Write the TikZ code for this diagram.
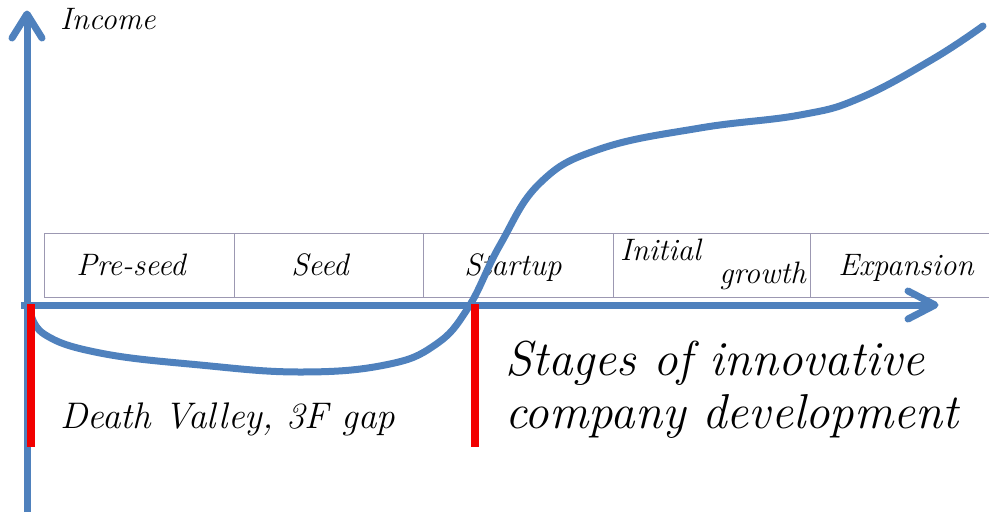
\documentclass[tikz,border=0pt]{standalone}
\usepackage{fontspec}
\definecolor{axisblue}{HTML}{4F81BD}
\definecolor{gridgray}{HTML}{9C98B2}
\definecolor{barred}{HTML}{F20000}
\begin{document}
\begin{tikzpicture}[x=1pt,y=-1pt,
  axisline/.style={draw=axisblue,line width=7pt},
  arrowhd/.style={draw=axisblue,line width=7pt,line cap=round,line join=round},
  gridline/.style={draw=gridgray,line width=0.9pt},
  redbar/.style={draw=barred,line width=8pt},
  stagetxt/.style={inner sep=0pt,font=\fontsize{31}{34}\selectfont\itshape},
  bigtxt/.style={inner sep=0pt,anchor=base west,font=\fontsize{49}{54}\selectfont\itshape}]
\useasboundingbox (0,0) rectangle (989,512);
% table
\draw[gridline] (44,233) -- (989,233);
\draw[gridline] (44,297) -- (989,297);
\foreach \xx in {44,234,423,613,810} \draw[gridline] (\xx,233) -- (\xx,297);
\node[stagetxt,anchor=base] (preseed) at (131,275) {Pre-seed};
\node[stagetxt,anchor=base] (seed) at (320,275) {Seed};
\node[stagetxt,anchor=base] (startup) at (513,275) {Startup};
\node[stagetxt,anchor=base west] (initial) at (620,260) {Initial};
\node[stagetxt,anchor=base east] (growth) at (806,283) {growth};
\node[stagetxt,anchor=base] (expansion) at (906,275) {Expansion};
% axes
\coordinate (origin) at (27,305);
\coordinate (ybot) at (27,512);
\coordinate (ytip) at (27,14);
\coordinate (xtip) at (935,305);
\draw[axisline] (ybot) -- (ytip);
\draw[arrowhd] (12,38) -- (ytip) -- (42,38);
\draw[axisline] (21,305) -- (xtip);
\draw[arrowhd] (908,291) -- (xtip) -- (908,319);
% curve
\draw[draw=axisblue,line width=7pt,line cap=round] plot[smooth,tension=0.7] coordinates {
 (30,308) (44,334) (100,353) (200,365) (300,372) (385,365) (435,345) (468,308)
 (500,245) (540,183) (600,149) (700,128) (800,115)
 (860,98) (933,59) (983,26)};
% red bars
\draw[redbar] (31,304) -- (31,447);
\draw[redbar] (475,304) -- (475,447);
% labels
\node[inner sep=0pt,anchor=base west,font=\fontsize{31}{34}\selectfont\itshape] (income) at (60,29) {Income};
\node[inner sep=0pt,anchor=base west,font=\fontsize{37}{42}\selectfont\itshape] (death) at (60,428) {Death Valley, 3F gap};
\node[bigtxt] (stages1) at (505,375) {Stages of innovative};
\node[bigtxt] (stages2) at (505,428) {company development};
\end{tikzpicture}
\end{document}
